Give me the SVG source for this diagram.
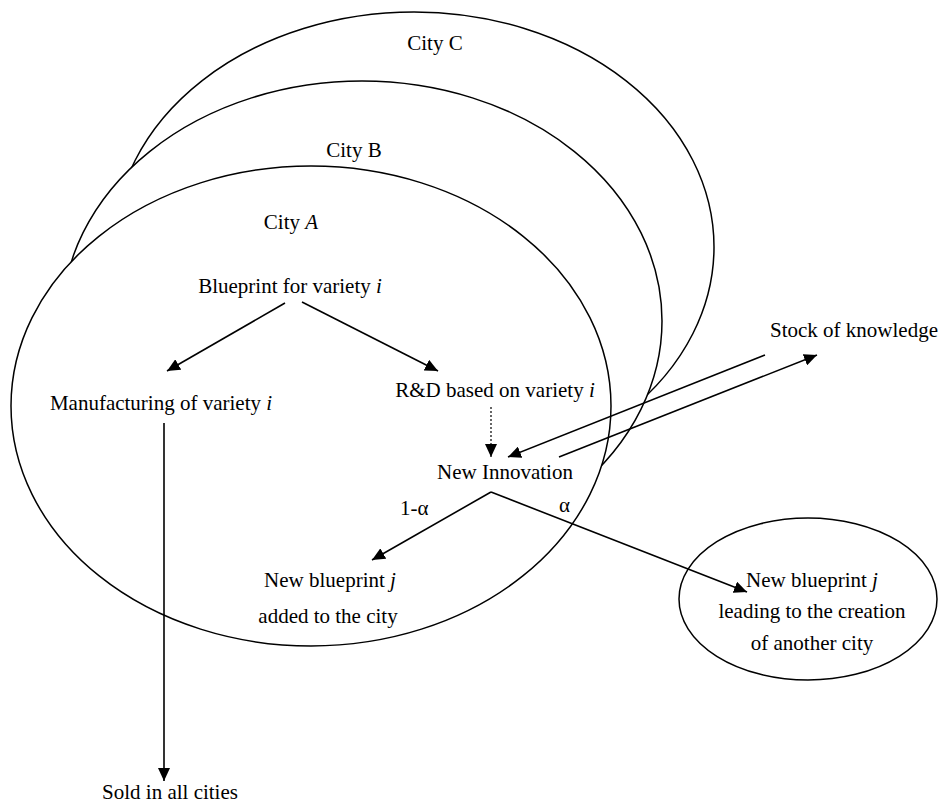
<svg xmlns="http://www.w3.org/2000/svg" width="942" height="805" viewBox="0 0 942 805">
<defs>
<style>
.city{fill:#fff;stroke:#000;stroke-width:1.5}
.t{font-family:"Liberation Serif","Times New Roman",serif;font-size:21px;fill:#000}
.m{text-anchor:middle}
.ln{fill:none;stroke:#000;stroke-width:1.6}
.dot{fill:none;stroke:#000;stroke-width:1.2;stroke-dasharray:2 2}
</style>
<marker id="ah" markerUnits="userSpaceOnUse" markerWidth="14" markerHeight="12" refX="13" refY="6" orient="auto">
<path d="M0,0 L13,6 L0,12 Z" fill="#000"/>
</marker>
</defs>
<rect width="942" height="805" fill="#fff"/>
<g id="cityC">
<ellipse class="city" cx="414" cy="247" rx="300" ry="235"/>
<text class="t m" x="435" y="50">City C</text>
</g>
<g id="cityB">
<ellipse class="city" cx="362" cy="321" rx="300" ry="240"/>
<text class="t m" x="354" y="157">City B</text>
</g>
<g id="cityA">
<ellipse class="city" cx="311" cy="406" rx="300" ry="240"/>
<text class="t m" x="291" y="229">City <tspan font-style="italic">A</tspan></text>
</g>
<g id="anotherCity">
<ellipse class="city" cx="808" cy="599" rx="129" ry="81"/>
</g>
<g id="connectors">
<line class="ln" x1="285" y1="303" x2="167" y2="371" marker-end="url(#ah)"/>
<line class="ln" x1="302" y1="302" x2="438" y2="371" marker-end="url(#ah)"/>
<line class="dot" x1="491" y1="407" x2="491" y2="457" marker-end="url(#ah)"/>
<line class="ln" x1="765" y1="355" x2="508" y2="457" marker-end="url(#ah)"/>
<line class="ln" x1="559" y1="457" x2="817" y2="355" marker-end="url(#ah)"/>
<line class="ln" x1="491" y1="492" x2="372" y2="560" marker-end="url(#ah)"/>
<line class="ln" x1="491" y1="492" x2="747" y2="592" marker-end="url(#ah)"/>
<line class="ln" x1="164" y1="423" x2="164" y2="781" marker-end="url(#ah)"/>
</g>
<g id="blueprint"><text class="t m" x="290" y="293">Blueprint for variety <tspan font-style="italic">i</tspan></text></g>
<g id="manufacturing"><text class="t m" x="161" y="410">Manufacturing of variety <tspan font-style="italic">i</tspan></text></g>
<g id="rnd"><text class="t m" x="495" y="397">R&amp;D based on variety <tspan font-style="italic">i</tspan></text></g>
<g id="innovation"><text class="t m" x="505" y="479">New Innovation</text></g>
<g id="stock"><text class="t" x="770" y="337">Stock of knowledge</text></g>
<g id="labels">
<text class="t" x="400" y="515" font-size="22">1-α</text>
<text class="t" x="559" y="512" font-size="22">α</text>
</g>
<g id="newBlueprintCity"><text class="t m" x="330" y="587">New blueprint <tspan font-style="italic">j</tspan></text><text class="t m" x="328" y="623">added to the city</text></g>
<g id="newBlueprintOther"><text class="t m" x="812" y="587">New blueprint <tspan font-style="italic">j</tspan></text><text class="t m" x="812" y="618">leading to the creation</text><text class="t m" x="812" y="650">of another city</text></g>
<g id="sold"><text class="t m" x="170" y="799">Sold in all cities</text></g>
</svg>
